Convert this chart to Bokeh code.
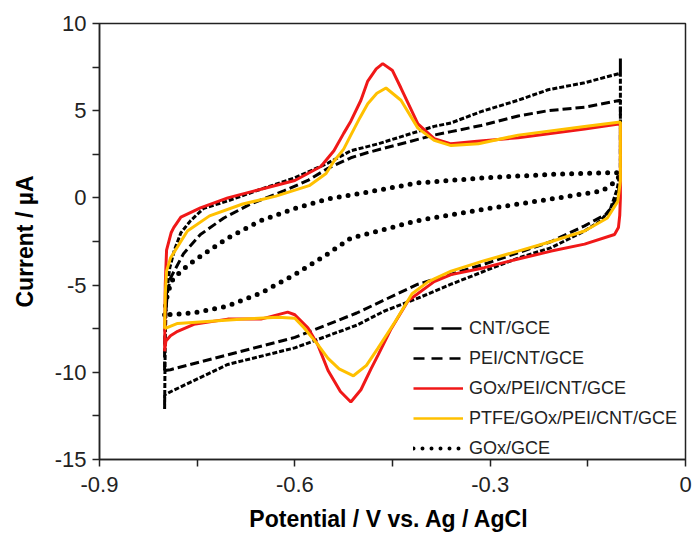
from bokeh.plotting import figure
from bokeh.models import FixedTicker, Legend, LegendItem, CustomJSTickFormatter
from bokeh.embed import file_html
from bokeh.resources import INLINE

# ---------------- data ----------------
x_ticks = [-0.9, -0.6, -0.3, 0.0]
x_minor = [-0.75, -0.45, -0.15]
y_ticks = [-15, -10, -5, 0, 5, 10]
y_minor = [-12.5, -7.5, -2.5, 2.5, 7.5]

labels = ["CNT/GCE", "PEI/CNT/GCE", "GOx/PEI/CNT/GCE", "PTFE/GOx/PEI/CNT/GCE", "GOx/GCE"]

cnt_v = [-0.8, -0.8, -0.799, -0.796, -0.791, -0.771, -0.745, -0.709, -0.668, -0.617, -0.58, -0.549,
         -0.514, -0.488, -0.386, -0.36, -0.314, -0.257, -0.211, -0.155, -0.1,
         -0.1, -0.105, -0.12, -0.155, -0.206, -0.309, -0.411, -0.505, -0.6, -0.703, -0.791, -0.8]
cnt_i = [-9.9, -8.5, -7.0, -5.5, -4.6, -3.2, -2.1, -1.15, -0.35, 0.4, 1.0, 1.7,
         2.3, 2.6, 3.6, 3.8, 4.15, 4.7, 5.0, 5.2, 5.6,
         1.0, 0.0, -0.9, -1.6, -2.5, -3.8, -4.95, -6.6, -8.0, -9.0, -9.85, -9.9]

pei_v = [-0.8, -0.799, -0.797, -0.792, -0.785, -0.775, -0.76, -0.74, -0.703, -0.652, -0.6, -0.549,
         -0.514, -0.472, -0.386, -0.36, -0.314, -0.257, -0.211, -0.155, -0.1, -0.1,
         -0.1, -0.105, -0.115, -0.13, -0.155, -0.206, -0.257, -0.309, -0.36, -0.411, -0.463,
         -0.505, -0.6, -0.703, -0.79, -0.8, -0.8]
pei_i = [-12.1, -8.0, -5.5, -4.0, -3.0, -2.0, -1.3, -0.6, -0.17, 0.5, 1.15, 2.0,
         2.7, 3.1, 4.1, 4.3, 4.95, 5.6, 6.2, 6.6, 7.15, 8.0,
         1.5, 0.5, -0.6, -1.3, -1.9, -2.85, -3.45, -4.2, -4.95, -5.75, -6.5,
         -7.3, -8.6, -9.55, -11.1, -11.3, -12.1]

gox_pei_v = [-0.8, -0.799, -0.797, -0.79, -0.786, -0.775, -0.745, -0.703, -0.652, -0.6, -0.56, -0.54,
             -0.525, -0.514, -0.4985, -0.488, -0.475, -0.465, -0.45, -0.437, -0.411, -0.386, -0.36,
             -0.32, -0.257, -0.155, -0.1,
             -0.1, -0.101, -0.103, -0.109, -0.155, -0.206, -0.257, -0.309, -0.36, -0.386, -0.426,
             -0.452, -0.472, -0.483, -0.4985, -0.514, -0.53, -0.549, -0.565, -0.58, -0.6, -0.611,
             -0.652, -0.703, -0.755, -0.78, -0.791, -0.798, -0.8]
gox_pei_i = [-8.8, -5.0, -3.0, -2.0, -1.7, -1.1, -0.57, 0.0, 0.5, 1.0, 1.8, 2.7,
             3.7, 4.4, 5.6, 6.7, 7.4, 7.7, 7.3, 6.3, 4.25, 3.4, 3.1,
             3.25, 3.45, 3.95, 4.25,
             0.0, -1.0, -1.7, -2.1, -2.65, -3.05, -3.5, -4.0, -4.4, -4.8, -5.9,
             -7.5, -9.0, -9.8, -11.0, -11.7, -11.1, -9.9, -8.4, -7.45, -6.7, -6.55,
             -6.95, -6.95, -7.25, -7.65, -7.9, -8.2, -8.8]

ptfe_v = [-0.8, -0.799, -0.797, -0.791, -0.765, -0.731, -0.68, -0.629, -0.578, -0.552, -0.54,
          -0.525, -0.514, -0.5, -0.488, -0.474, -0.46, -0.437, -0.411, -0.386, -0.36, -0.318,
          -0.257, -0.155, -0.1,
          -0.1, -0.104, -0.12, -0.155, -0.206, -0.257, -0.309, -0.36, -0.395, -0.42, -0.446,
          -0.472, -0.49, -0.51, -0.532, -0.549, -0.565, -0.586, -0.6, -0.626, -0.678, -0.729,
          -0.78, -0.8]
ptfe_i = [-7.5, -5.5, -4.2, -3.45, -1.9, -1.03, -0.35, 0.1, 0.7, 1.4, 2.1,
          2.8, 3.6, 4.6, 5.4, 6.0, 6.3, 5.6, 4.0, 3.3, 3.0, 3.1,
          3.6, 4.1, 4.35,
          1.0, -0.2, -1.15, -1.9, -2.5, -3.05, -3.6, -4.2, -4.8, -5.5, -7.1,
          -8.6, -9.6, -10.2, -9.8, -9.2, -8.4, -7.45, -6.9, -6.85, -6.95, -7.07,
          -7.2, -7.5]

gox_v = [-0.8, -0.798, -0.79, -0.775, -0.755, -0.703, -0.652, -0.6, -0.549, -0.478, -0.411,
         -0.309, -0.206, -0.105, -0.1,
         -0.105, -0.128, -0.206, -0.309, -0.411, -0.472, -0.514, -0.549, -0.6, -0.652, -0.703,
         -0.755, -0.8]
gox_i = [-6.7, -5.9, -4.8, -4.2, -3.6, -2.3, -1.3, -0.6, -0.06, 0.4, 0.86,
         1.15, 1.35, 1.45, 1.45,
         1.0, 0.4, -0.06, -0.65, -1.3, -1.9, -2.3, -3.2, -4.4, -5.45, -6.2,
         -6.6, -6.7]

NAN = [float("nan")]

# ---------------- figure ----------------
FONT = "Liberation Sans"
p = figure(width=694, height=545, output_backend="svg", toolbar_location=None,
           x_range=(-0.9, 0.0), y_range=(-15, 10),
           min_border_left=99, min_border_right=9, min_border_top=23, min_border_bottom=86)
p.background_fill_color = "white"
p.border_fill_color = "white"
p.xgrid.visible = False
p.ygrid.visible = False
p.outline_line_color = "#222222"
p.outline_line_width = 1.5

RED = "#F01818"
ORANGE = "#FFC000"

p.line(gox_v, gox_i, line_color="black", line_width=5, line_dash="0 9", line_cap="round")
p.line(pei_v, pei_i, line_color="black", line_width=3, line_dash="5 2")
p.line(cnt_v, cnt_i, line_color="black", line_width=3, line_dash="9 4")
p.line(gox_pei_v, gox_pei_i, line_color=RED, line_width=3)
p.line(ptfe_v, ptfe_i, line_color=ORANGE, line_width=3)

# legend swatches (renderers without visible data, carrying the legend's dash styles)
l_cnt = p.line(x=NAN, y=NAN, line_color="black", line_width=2.5, line_dash="20 8")
l_pei = p.line(x=NAN, y=NAN, line_color="black", line_width=2.5, line_dash="11 7")
l_red = p.line(x=NAN, y=NAN, line_color=RED, line_width=2.5)
l_org = p.line(x=NAN, y=NAN, line_color=ORANGE, line_width=2.5)
l_gox = p.line(x=NAN, y=NAN, line_color="black", line_width=4, line_dash="0 9", line_cap="round")

legend = Legend(items=[LegendItem(label=labels[0], renderers=[l_cnt]),
                       LegendItem(label=labels[1], renderers=[l_pei]),
                       LegendItem(label=labels[2], renderers=[l_red]),
                       LegendItem(label=labels[3], renderers=[l_org]),
                       LegendItem(label=labels[4], renderers=[l_gox])],
                location=(314, 0), glyph_width=50, glyph_height=22, label_height=22,
                spacing=8, padding=0, margin=0, label_standoff=6,
                border_line_color=None, background_fill_alpha=0,
                label_text_font=FONT, label_text_font_size="18px", label_text_color="#222222")
p.add_layout(legend)

# axes
p.xaxis.ticker = FixedTicker(ticks=x_ticks, minor_ticks=x_minor)
p.yaxis.ticker = FixedTicker(ticks=y_ticks, minor_ticks=y_minor)
p.xaxis.formatter = CustomJSTickFormatter(code="return Math.abs(tick) < 1e-9 ? '0' : tick.toFixed(1);")
p.yaxis.formatter = CustomJSTickFormatter(code="return String(Math.round(tick));")
for ax in (p.xaxis[0], p.yaxis[0]):
    ax.axis_line_color = "#222222"
    ax.axis_line_width = 1.5
    ax.major_tick_in = 0
    ax.major_tick_out = 7
    ax.minor_tick_in = 0
    ax.minor_tick_out = 7
    ax.major_tick_line_width = 1.5
    ax.minor_tick_line_width = 1.5
    ax.major_tick_line_color = "#222222"
    ax.minor_tick_line_color = "#222222"
    ax.major_label_text_font = FONT
    ax.major_label_text_font_size = "22px"
    ax.major_label_text_color = "#222222"
    ax.axis_label_text_font = FONT
    ax.axis_label_text_font_size = "23px"
    ax.axis_label_text_font_style = "bold"
    ax.axis_label_text_color = "black"

p.xaxis.axis_label = "Potential  / V vs. Ag / AgCl"
p.yaxis.axis_label = "Current / µA"
p.xaxis.major_label_standoff = 10
p.yaxis.major_label_standoff = 6
p.xaxis.axis_label_standoff = 11
p.yaxis.axis_label_standoff = 14

open("out.html", "w").write(file_html(p, INLINE))
